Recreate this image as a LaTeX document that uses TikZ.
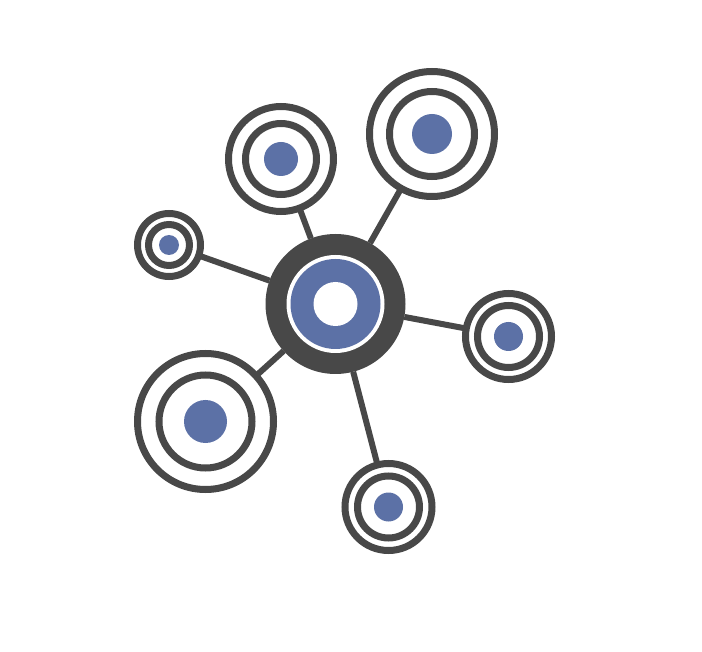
\documentclass[tikz,border=0pt]{standalone}
\usetikzlibrary{positioning}
\definecolor{netgray}{RGB}{72,72,72}
\definecolor{netblue}{RGB}{92,113,166}

\begin{document}
\begin{tikzpicture}[x=1pt, y=-1pt,
                    ring/.style = {
                      circle, draw=netgray, line width=7pt,
                      fill=white, inner sep=0pt, outer sep=0pt
                    },
                    dot/.style = {
                      circle, fill=netblue, draw=none,
                      inner sep=0pt, outer sep=0pt
                    },
                    hubdisc/.style = {
                      circle, fill=netgray, draw=none,
                      inner sep=0pt, outer sep=0pt,
                      minimum size=140pt
                    },
                    link/.style = {
                      draw=netgray, line width=6pt
                    }]
    \useasboundingbox[fill=white] (0,0) rectangle (702,652);

    % hub
    \node[hubdisc] (hub) at (335.5,304) {};
    \node[dot, fill=white, minimum size=98pt] at (hub) {};
    \node[dot, minimum size=90pt] at (hub) {};
    \node[dot, fill=white, minimum size=44pt] at (hub) {};

    % satellites
    \node[ring, minimum size=125pt] (topright) at (432,134) {};
    \node[ring, minimum size=85pt] at (topright) {};
    \node[dot, minimum size=40pt] at (topright) {};

    \node[ring, minimum size=105pt] (top) at (281,159) {};
    \node[ring, minimum size=71pt] at (top) {};
    \node[dot, minimum size=34pt] at (top) {};

    \node[ring, minimum size=63pt] (left) at (169,245) {};
    \node[ring, minimum size=41pt] at (left) {};
    \node[dot, minimum size=20pt] at (left) {};

    \node[ring, minimum size=86pt] (right) at (508.5,336.5) {};
    \node[ring, minimum size=62pt] at (right) {};
    \node[dot, minimum size=29pt] at (right) {};

    \node[ring, minimum size=136pt] (bottomleft) at (205.5,421.5) {};
    \node[ring, minimum size=93pt] at (bottomleft) {};
    \node[dot, minimum size=43pt] at (bottomleft) {};

    \node[ring, minimum size=87pt] (bottom) at (388.5,507) {};
    \node[ring, minimum size=62pt] at (bottom) {};
    \node[dot, minimum size=29pt] at (bottom) {};

    % links
    \draw[link] (hub) -- (topright);
    \draw[link] (hub) -- (top);
    \draw[link] (hub) -- (left);
    \draw[link] (hub) -- (right);
    \draw[link] (hub) -- (bottomleft);
    \draw[link] (hub) -- (bottom);
\end{tikzpicture}
\end{document}
